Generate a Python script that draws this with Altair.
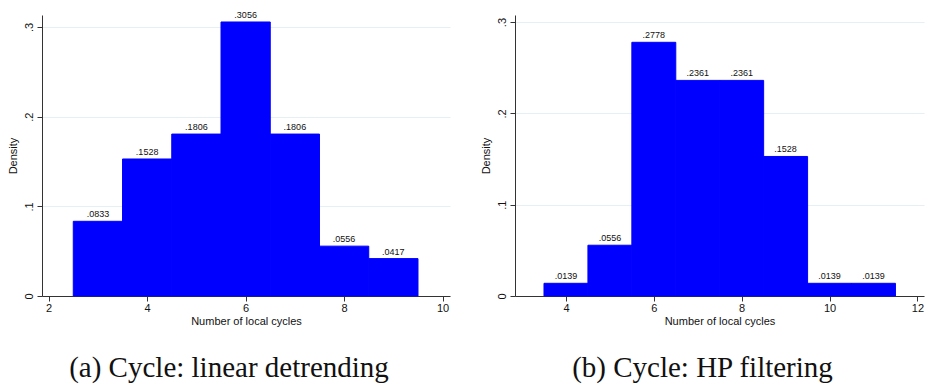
import altair as alt
import pandas as pd

# Panel (a): linear detrending
a_centers = [3, 4, 5, 6, 7, 8, 9]
a_density = [0.0833, 0.1528, 0.1806, 0.3056, 0.1806, 0.0556, 0.0417]
a_xticks = [2, 4, 6, 8, 10]

# Panel (b): HP filtering
b_centers = [4, 5, 6, 7, 8, 9, 10, 11]
b_density = [0.0139, 0.0556, 0.2778, 0.2361, 0.2361, 0.1528, 0.0139, 0.0139]
b_xticks = [4, 6, 8, 10, 12]

y_ticks = [0, 0.1, 0.2, 0.3]
bin_width = 1

SANS = "Liberation Sans"
SERIF = "Liberation Serif"


def make_df(centers, dens):
    return pd.DataFrame({
        "start": [c - bin_width / 2 for c in centers],
        "end": [c + bin_width / 2 for c in centers],
        "mid": centers,
        "density": dens,
        "label": [("%.4f" % d)[1:] for d in dens],
    })


def panel(centers, dens, xticks, xdom, ymax, w, h, caption):
    df = make_df(centers, dens)
    xs = alt.Scale(domain=xdom, nice=False, zero=False)
    ys = alt.Scale(domain=[0, ymax], nice=False)
    base = alt.Chart(df)
    bars = base.mark_rect(color="#0000ff", stroke="#0000ff", strokeWidth=1).encode(
        x=alt.X("start:Q", scale=xs,
                axis=alt.Axis(values=xticks, title="Number of local cycles",
                              grid=False, labelFontSize=11, titleFontSize=11,
                              labelFont=SANS, titleFont=SANS, tickSize=5,
                              labelPadding=1, titlePadding=2,
                              domainColor="#333333", tickColor="#333333",
                              labelColor="#111111", titleColor="#111111",
                              titleFontWeight="normal", labelFlush=False)),
        x2="end:Q",
        y=alt.Y("density:Q", scale=ys,
                axis=alt.Axis(values=y_ticks, title="Density",
                              labelExpr="datum.value == 0 ? '0' : substring(format(datum.value, '.1f'), 1)",
                              labelAngle=270, grid=True, gridColor="#e6eff1",
                              gridWidth=1, labelFontSize=11, titleFontSize=11,
                              labelFont=SANS, titleFont=SANS, tickSize=5,
                              labelPadding=3, titlePadding=5,
                              domainColor="#333333", tickColor="#333333",
                              labelColor="#111111", titleColor="#111111",
                              titleFontWeight="normal", labelFlush=False)),
        y2=alt.datum(0),
    )
    text = base.mark_text(fontSize=9, font=SANS, baseline="alphabetic", dy=-4,
                          color="#111111").encode(
        x=alt.X("mid:Q", scale=xs),
        y=alt.Y("density:Q", scale=ys),
        text="label:N",
    )
    return alt.layer(bars, text).properties(
        width=w, height=h,
        title=alt.TitleParams(caption, orient="bottom", font=SERIF, fontSize=29,
                              fontWeight="normal", color="#111111", offset=28,
                              dx=-17, anchor="middle"),
    )


left = panel(a_centers, a_density, a_xticks, [1.865, 10.15], 0.3134, 408, 281,
             "(a) Cycle: linear detrending")
right = panel(b_centers, b_density, b_xticks, [2.84, 12.15], 0.3077, 409, 281,
              "(b) Cycle: HP filtering")

chart = alt.hconcat(left, right, spacing=65, bounds="flush").configure_view(
    stroke=None
).properties(background="white", padding={"left": 7, "top": 10, "right": 5, "bottom": 5})

chart.save("out.html", embed_options={"renderer": "svg", "actions": False})
